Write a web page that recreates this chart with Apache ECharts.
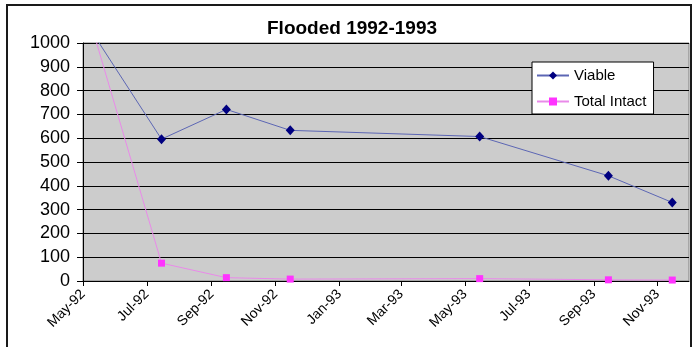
<!DOCTYPE html>
<html>
<head>
<meta charset="utf-8">
<script src="https://cdn.jsdelivr.net/npm/echarts@6/dist/echarts.min.js"></script>
<style>
  html, body { margin: 0; padding: 0; background: #fff; }
  #chart { width: 692px; height: 347px; }
</style>
</head>
<body>
<div id="chart"></div>
<script>
// sample dates and counts
var sampleDates = ['1992-05-12', '1992-07-15', '1992-09-15', '1992-11-15', '1993-05-15', '1993-09-15', '1993-11-15'];
var viable = [1030, 596, 721, 633, 607, 442, 330];
var totalIntact = [1030, 75, 14, 8, 10, 5, 4];
var monthNames = ['Jan', 'Feb', 'Mar', 'Apr', 'May', 'Jun', 'Jul', 'Aug', 'Sep', 'Oct', 'Nov', 'Dec'];

var FONT = 'Arial, "Liberation Sans", sans-serif';

function pairs(values) {
  return sampleDates.map(function (d, i) { return [d, values[i]]; });
}

var chart = echarts.init(document.getElementById('chart'), null, { renderer: 'canvas' });
chart.setOption({
  backgroundColor: '#fff',
  animation: false,
  title: {
    text: 'Flooded 1992-1993',
    left: 267,
    top: 19,
    padding: 0,
    textStyle: { fontFamily: FONT, fontSize: 19, fontWeight: 'bold', color: '#000' }
  },
  legend: {
    orient: 'vertical',
    left: 532,
    top: 62,
    padding: [6, 7, 5, 4],
    itemWidth: 32,
    itemHeight: 10,
    itemGap: 11,
    backgroundColor: '#fff',
    borderColor: '#000',
    borderWidth: 1,
    textStyle: { fontFamily: FONT, fontSize: 15, color: '#000' },
    data: ['Viable', 'Total Intact']
  },
  grid: {
    left: 83,
    right: 3,
    top: 43,
    bottom: 66,
    show: true,
    backgroundColor: '#cccccc',
    borderColor: '#808080',
    borderWidth: 1
  },
  xAxis: {
    type: 'time',
    min: new Date(1992, 4, 1).getTime(),
    max: new Date(1993, 11, 1).getTime(),
    minInterval: 61 * 24 * 3600 * 1000,
    maxInterval: 61 * 24 * 3600 * 1000,
    axisLine: { show: true, lineStyle: { color: '#000', width: 1 } },
    axisTick: { show: true, length: 5, lineStyle: { color: '#000' } },
    splitLine: { show: false },
    axisLabel: {
      rotate: 45,
      margin: 11,
      fontFamily: FONT,
      fontSize: 14,
      color: '#000',
      formatter: function (val) {
        var d = new Date(val);
        return monthNames[d.getMonth()] + '-' + String(d.getFullYear()).slice(2);
      }
    }
  },
  yAxis: {
    type: 'value',
    min: 0,
    max: 1000,
    interval: 100,
    axisLine: { show: true, lineStyle: { color: '#000', width: 1 } },
    axisTick: { show: true, length: 6, lineStyle: { color: '#000' } },
    splitLine: { show: true, lineStyle: { color: '#000', width: 1 } },
    axisLabel: {
      margin: 13,
      fontFamily: FONT,
      fontSize: 18,
      color: '#000',
      formatter: function (v) { return String(v); }
    }
  },
  graphic: [{
    type: 'rect',
    shape: { x: 7, y: 5, width: 684, height: 360 },
    style: { fill: 'none', stroke: '#1a1a1a', lineWidth: 2 },
    silent: true,
    z: 100
  }],
  series: [
    {
      name: 'Viable',
      type: 'line',
      data: pairs(viable),
      symbol: 'diamond',
      symbolSize: [9, 10],
      clip: true,
      itemStyle: { color: '#000080' },
      lineStyle: { color: '#5c66b4', width: 1 }
    },
    {
      name: 'Total Intact',
      type: 'line',
      data: pairs(totalIntact),
      symbol: 'rect',
      symbolSize: 7,
      clip: true,
      itemStyle: { color: '#ff33ff' },
      lineStyle: { color: '#e98ae9', width: 1 }
    }
  ]
});
</script>
</body>
</html>
